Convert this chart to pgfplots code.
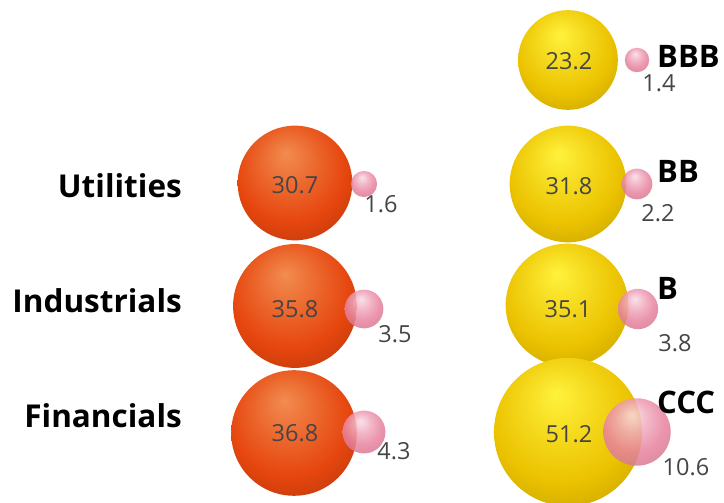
\documentclass[border=0pt]{standalone}
\usepackage{pgfplots}
\pgfplotsset{compat=1.18}
\usepackage{pgfplotstable}
\usepackage{fontspec}
\setmainfont{Open Sans}
\definecolor{redbody}{HTML}{E6460E}
\definecolor{redhi}{HTML}{F28C50}
\definecolor{yelbody}{HTML}{EBC200}
\definecolor{yelhi}{HTML}{FFF23C}
\definecolor{pinkbody}{HTML}{E8839F}
\definecolor{pinkhi}{HTML}{F9DCE5}
\definecolor{valgray}{HTML}{454545}

\pgfdeclareradialshading{redball}{\pgfpoint{-4bp}{13bp}}{%
 color(0bp)=(redhi); color(14bp)=(redhi!40!redbody); color(24bp)=(redbody);
 color(33bp)=(redbody!86!black); color(41bp)=(redbody!52!black); color(50bp)=(redbody!22!black)}
\pgfdeclareradialshading{yelball}{\pgfpoint{-4bp}{13bp}}{%
 color(0bp)=(yelhi); color(14bp)=(yelhi!40!yelbody); color(24bp)=(yelbody);
 color(33bp)=(yelbody!88!black); color(41bp)=(yelbody!62!black); color(50bp)=(yelbody!38!black)}
\pgfdeclareradialshading{pinkball}{\pgfpoint{-4bp}{13bp}}{%
 color(0bp)=(pinkhi); color(12bp)=(pinkhi!40!pinkbody); color(22bp)=(pinkbody);
 color(34bp)=(pinkbody!90!black); color(42bp)=(pinkbody!72!black); color(50bp)=(pinkbody!55!black)}
\pgfdeclareplotmark{redball}{\pgfpathcircle{\pgfpointorigin}{\pgfplotmarksize}\pgfshadepath{redball}{0}\pgfusepath{discard}}
\pgfdeclareplotmark{yelball}{\pgfpathcircle{\pgfpointorigin}{\pgfplotmarksize}\pgfshadepath{yelball}{0}\pgfusepath{discard}}
\pgfdeclareplotmark{pinkball}{\pgfpathcircle{\pgfpointorigin}{\pgfplotmarksize}\pgfshadepath{pinkball}{0}\pgfusepath{discard}}

\pgfplotstableread{
x y v
295 320 30.7
295 197 35.8
294 70 36.8
}\redtab
\pgfplotstableread{
x y v
568 443 23.2
568 319 31.8
567 198 35.1
568 71 51.2
}\yeltab
\pgfplotstableread{
x y v
364 319 1.6
364 194 3.5
364 71 4.3
637 443 1.4
637 319 2.2
638 194 3.8
637 71 10.6
}\pinktab

\pgfplotsset{bubble/.style={scatter, only marks, mark=#1,
  scatter/use mapped color={draw=none,fill=none},
  visualization depends on={10.35*sqrt(\thisrow{v})\as\rad},
  scatter/@pre marker code/.append style={/tikz/mark size=\rad}}}

\begin{document}
\begin{tikzpicture}
\begin{axis}[
  width=724pt, height=503pt, scale only axis,
  xmin=0, xmax=724, ymin=0, ymax=503,
  hide axis, clip=false,
  set layers, mark layer=pre main,
]
\addplot[bubble=redball] table[x=x,y=y] {\redtab};
\addplot[bubble=yelball] table[x=x,y=y] {\yeltab};
\addplot[bubble=pinkball, opacity=0.85, mark options={opacity=0.85}] table[x=x,y=y] {\pinktab};

\begin{scope}[every node/.style={text=valgray, font=\fontsize{23.5}{28}\selectfont, anchor=base, inner sep=0pt}]
\node at (axis cs:569,433) {23.2};
\node at (axis cs:569,308) {31.8};
\node at (axis cs:568,185) {35.1};
\node at (axis cs:569,60) {51.2};
\node at (axis cs:295,309) {30.7};
\node at (axis cs:295,185) {35.8};
\node at (axis cs:295,61) {36.8};
\node at (axis cs:659,411) {1.4};
\node at (axis cs:381,290) {1.6};
\node at (axis cs:658,281) {2.2};
\node at (axis cs:675,151) {3.8};
\node at (axis cs:395,160) {3.5};
\node at (axis cs:394,43) {4.3};
\node at (axis cs:686,27) {10.6};
\end{scope}
\begin{scope}[every node/.style={text=black, font=\fontsize{31.5}{38}\selectfont\bfseries, inner sep=0pt}]
\node[anchor=base east] at (axis cs:182,305) {Utilities};
\node[anchor=base east] at (axis cs:182,190) {Industrials};
\node[anchor=base east] at (axis cs:182,75) {Financials};
\end{scope}
\begin{scope}[every node/.style={text=black, font=\fontsize{31}{37}\selectfont\bfseries, inner sep=0pt}]
\node[anchor=base west] at (axis cs:657,435) {BBB};
\node[anchor=base west] at (axis cs:657,320) {BB};
\node[anchor=base west] at (axis cs:657,203) {B};
\node[anchor=base west] at (axis cs:657,89) {CCC};
\end{scope}
\end{axis}
\pgfresetboundingbox
\path (current axis.south west) rectangle (current axis.north east);
\end{tikzpicture}
\end{document}
